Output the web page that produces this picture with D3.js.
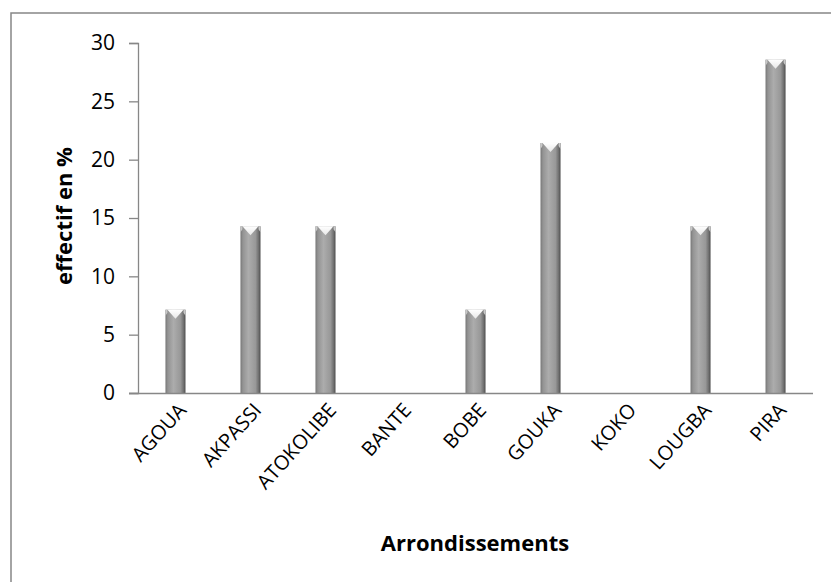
<!DOCTYPE html>
<html>
<head>
<meta charset="utf-8">
<script src="https://cdn.jsdelivr.net/npm/d3@7"></script>
<style>
  html, body { margin: 0; padding: 0; background: #fff; }
  svg { display: block; font-family: "Open Sans", "Noto Sans", sans-serif; }
</style>
</head>
<body>
<svg id="chart" width="831" height="582"></svg>
<script>
// Share of respondents by arrondissement (%)
const categories = ["AGOUA", "AKPASSI", "ATOKOLIBE", "BANTE", "BOBE", "GOUKA", "KOKO", "LOUGBA", "PIRA"];
const values = [7.14, 14.29, 14.29, 0, 7.14, 21.43, 0, 14.29, 28.57];
const yTicks = [0, 5, 10, 15, 20, 25, 30];
const yTitle = "effectif en %";
const xTitle = "Arrondissements";

const svg = d3.select("#chart");
const margin = { left: 138, right: 18, top: 43, bottom: 189 };
const W = 831, H = 582;
const plotW = W - margin.left - margin.right;
const plotH = H - margin.top - margin.bottom;

// Outer chart frame (runs off the right and bottom edges)
svg.append("rect")
  .attr("x", 11).attr("y", 13)
  .attr("width", 840).attr("height", 600)
  .attr("fill", "#fff")
  .attr("stroke", "#878787").attr("stroke-width", 1.5);

const defs = svg.append("defs");
const grad = defs.append("linearGradient").attr("id", "barGrad")
  .attr("x1", "0%").attr("x2", "100%").attr("y1", "0%").attr("y2", "0%");
[["0%", "#767676"], ["12%", "#939393"], ["40%", "#acacac"], ["75%", "#989898"], ["92%", "#6c6c6c"], ["100%", "#4a4a4a"]]
  .forEach(([o, c]) => grad.append("stop").attr("offset", o).attr("stop-color", c));
const capGrad = defs.append("linearGradient").attr("id", "capGrad")
  .attr("x1", "0%").attr("x2", "0%").attr("y1", "0%").attr("y2", "100%");
capGrad.append("stop").attr("offset", "0%").attr("stop-color", "#ffffff");
capGrad.append("stop").attr("offset", "100%").attr("stop-color", "#e8e8e8");

const g = svg.append("g").attr("transform", `translate(${margin.left},${margin.top})`);

const x = d3.scaleBand().domain(categories).range([0, plotW]).paddingInner(0.733).paddingOuter(0.366);
const y = d3.scaleLinear().domain([0, 30]).range([plotH, 0]);

// Bars: shaded column body with a bevelled top
const bars = g.selectAll("g.bar")
  .data(categories.map((c, i) => ({ c, v: values[i] })).filter(d => d.v > 0))
  .join("g").attr("class", "bar");

bars.append("rect")
  .attr("x", d => x(d.c)).attr("y", d => y(d.v))
  .attr("width", x.bandwidth()).attr("height", d => y(0) - y(d.v))
  .attr("fill", "url(#barGrad)");

bars.append("path")
  .attr("d", d => {
    const x0 = x(d.c), x1 = x0 + x.bandwidth(), xm = x0 + x.bandwidth() / 2, t = y(d.v);
    return `M${x0 + 2},${t}L${x1 - 2},${t}L${xm},${t + 9}Z`;
  })
  .attr("fill", "url(#capGrad)");

bars.append("path")
  .attr("d", d => {
    const x0 = x(d.c), x1 = x0 + x.bandwidth(), t = y(d.v);
    return `M${x0},${t}L${x0 + 2},${t}L${x0 + 2},${t + 3}L${x0},${t + 6}Z M${x1},${t}L${x1 - 2},${t}L${x1 - 2},${t + 3}L${x1},${t + 6}Z`;
  })
  .attr("fill", "#c8c8c8");

// Y axis
const yAxis = g.append("g")
  .call(d3.axisLeft(y).tickValues(yTicks).tickSize(9).tickPadding(14).tickFormat(d3.format("d")));
yAxis.attr("font-size", null).attr("font-family", null);
yAxis.select(".domain").attr("stroke", "#878787").attr("stroke-width", 1.3);
yAxis.selectAll(".tick line").attr("stroke", "#878787").attr("stroke-width", 1.3);
yAxis.selectAll(".tick text").attr("fill", "#000")
  .style("font-size", "21px").style("font-family", "'Open Sans', sans-serif");

// X axis baseline with slanted category labels
const xAxis = g.append("g").attr("transform", `translate(0,${plotH})`)
  .call(d3.axisBottom(x).tickSize(0).tickPadding(0));
xAxis.attr("font-size", null).attr("font-family", null);
xAxis.select(".domain").attr("stroke", "#878787").attr("stroke-width", 1.3)
  .attr("d", `M-9,0.5H${plotW}`);
xAxis.selectAll(".tick text")
  .attr("fill", "#000")
  .style("font-size", "20px").style("font-family", "'Open Sans', sans-serif")
  .attr("text-anchor", "end")
  .attr("dy", 0).attr("y", 0)
  .attr("transform", "translate(12,18) rotate(-48)");

// Axis titles
svg.append("text")
  .attr("transform", `translate(72,${margin.top + plotH / 2 - 2}) rotate(-90)`)
  .attr("text-anchor", "middle")
  .style("font-size", "22px").attr("font-weight", "bold").attr("fill", "#000")
  .text(yTitle);

svg.append("text")
  .attr("x", 475).attr("y", 551)
  .attr("text-anchor", "middle")
  .style("font-size", "22px").attr("font-weight", "bold").attr("fill", "#000")
  .text(xTitle);
</script>
</body>
</html>
